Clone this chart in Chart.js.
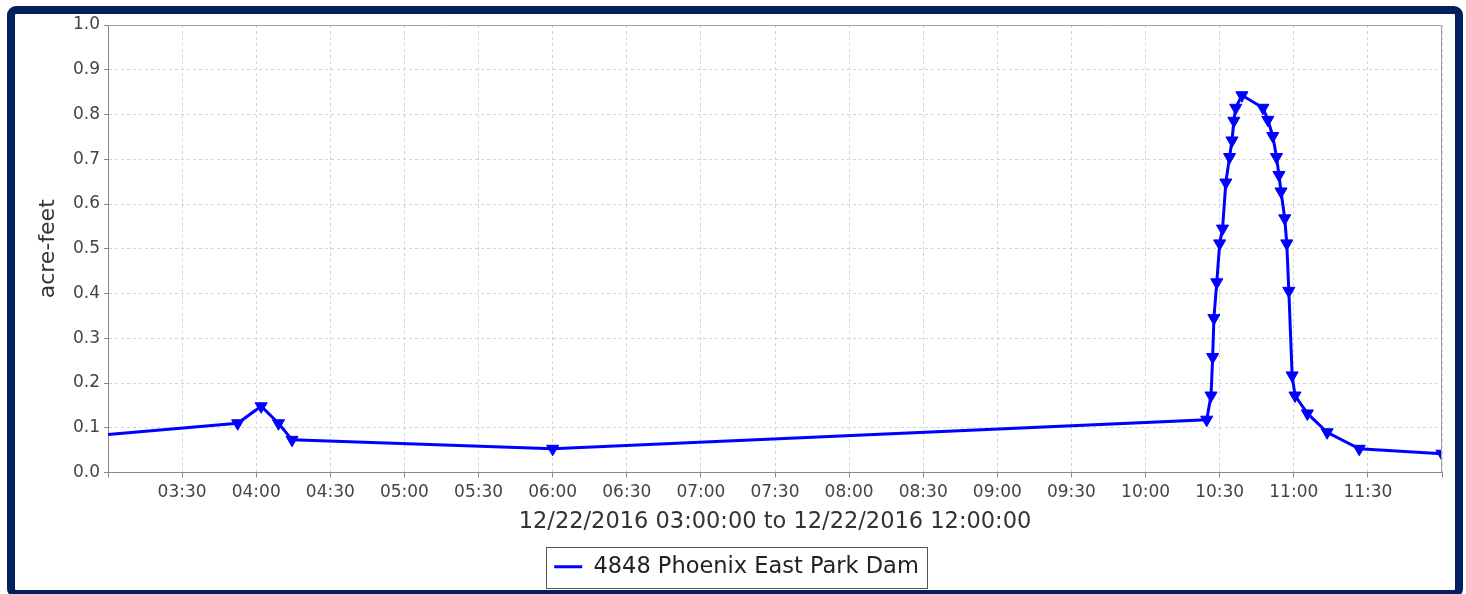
<!DOCTYPE html>
<html>
<head>
<meta charset="utf-8">
<script src="https://cdn.jsdelivr.net/npm/chart.js@4.4.0/dist/chart.umd.min.js"></script>
<style>
  html, body { margin: 0; padding: 0; background: #fff; }
  #wrap { position: relative; width: 1466px; height: 594px; overflow: hidden; }
  #frame {
    position: absolute; left: 7px; top: 6px; width: 1456px; height: 592px;
    box-sizing: border-box; border: 8px solid #02205e; border-radius: 9px;
    pointer-events: none;
  }
</style>
</head>
<body>
<div id="wrap">
  <canvas id="chart" width="1466" height="594"></canvas>
  <div id="frame"></div>
</div>
<script>
// reading times (HH:MM:SS, 12/22/2016) and storage in acre-feet
const times = [
  "03:00:00", "03:52:30", "04:02:00", "04:09:00", "04:14:30", "06:00:00",
  "10:24:45", "10:26:30", "10:27:10", "10:27:40", "10:28:50", "10:30:00",
  "10:31:10", "10:32:30", "10:34:00", "10:35:00", "10:35:45", "10:36:30",
  "10:39:00", "10:47:30", "10:49:30", "10:51:30", "10:53:00", "10:54:00",
  "10:54:50", "10:56:20", "10:57:10", "10:58:00", "10:59:20", "11:00:30",
  "11:05:30", "11:13:30", "11:26:30", "12:00:00"
];
const acreFeet = [
  0.085, 0.110, 0.148, 0.110, 0.073, 0.053,
  0.118, 0.172, 0.258, 0.345, 0.425, 0.512,
  0.545, 0.648, 0.705, 0.742, 0.786, 0.815,
  0.843, 0.815, 0.788, 0.752, 0.705, 0.665,
  0.628, 0.568, 0.512, 0.406, 0.217, 0.172,
  0.132, 0.090, 0.053, 0.042
];
const seriesName = "4848 Phoenix East Park Dam";
const xTitle = "12/22/2016 03:00:00 to 12/22/2016 12:00:00";
const yTitle = "acre-feet";
const xMin = "03:00", xMax = "12:00";

function toMinutes(t) {
  const p = t.split(":").map(Number);
  return p[0] * 60 + p[1] + (p[2] || 0) / 60;
}
function fmt(m) {
  const h = Math.floor(m / 60), mm = Math.round(m % 60);
  return String(h).padStart(2, "0") + ":" + String(mm).padStart(2, "0");
}

const points = times.map((t, i) => ({ x: toMinutes(t), y: acreFeet[i] }));
const FONT = "'DejaVu Sans', sans-serif";
const BLUE = "#0000ff";

const framePlugin = {
  id: "frame",
  afterDraw(chart) {
    const { ctx, chartArea: a } = chart;
    ctx.save();
    ctx.strokeStyle = "#a0a0a0";
    ctx.lineWidth = 1;
    ctx.beginPath();
    ctx.moveTo(a.left, a.top + 0.5);
    ctx.lineTo(a.right - 0.5, a.top + 0.5);
    ctx.lineTo(a.right - 0.5, a.bottom);
    ctx.stroke();
    // box round the legend
    const hb = chart.legend.legendHitBoxes[0];
    if (hb) {
      ctx.strokeStyle = "#555";
      ctx.lineWidth = 1;
      ctx.strokeRect(Math.round(hb.left - 8) + 0.5, Math.round(hb.top - 9) + 0.5,
        Math.round(hb.width + 16), Math.round(hb.height + 18));
    }
    ctx.restore();
  }
};

new Chart(document.getElementById("chart").getContext("2d"), {
  type: "line",
  data: {
    datasets: [{
      label: seriesName,
      data: points,
      borderColor: BLUE,
      backgroundColor: BLUE,
      borderWidth: 3,
      tension: 0,
      fill: false,
      pointStyle: "triangle",
      rotation: 180,
      pointRadius: (c) => (c.dataIndex === 0 ? 0 : 7),
      pointBorderWidth: 1,
      clip: 0
    }]
  },
  options: {
    responsive: false,
    animation: false,
    layout: { padding: { left: 31, right: 24, top: 25, bottom: 6 } },
    scales: {
      x: {
        type: "linear",
        min: toMinutes(xMin),
        max: toMinutes(xMax),
        afterFit: (s) => { s.height = 64; },
        ticks: {
          stepSize: 30,
          autoSkip: false,
          maxRotation: 0,
          padding: 5,
          color: "#444",
          font: { family: FONT, size: 17 },
          callback: (v) => (v === toMinutes(xMin) || v === toMinutes(xMax) ? "" : fmt(v))
        },
        grid: { color: "#d4d4d4", tickLength: 5, tickColor: "#888", tickBorderDash: [] },
        border: { color: "#888", width: 1, dash: [3, 3] },
        title: {
          display: true, text: xTitle, color: "#333",
          font: { family: FONT, size: 22.5 }, padding: { top: 0, bottom: 1 }
        }
      },
      y: {
        min: 0,
        max: 1,
        afterFit: (s) => { s.width = 77; },
        ticks: {
          stepSize: 0.1,
          padding: 4,
          color: "#444",
          font: { family: FONT, size: 17 },
          callback: (v) => Number(v).toFixed(1)
        },
        grid: { color: "#d4d4d4", tickLength: 4, tickColor: "#888", tickBorderDash: [] },
        border: { color: "#888", width: 1, dash: [3, 3] },
        title: {
          display: true, text: yTitle, color: "#333",
          font: { family: FONT, size: 22 }, padding: { top: 4, bottom: 4 }
        }
      }
    },
    plugins: {
      legend: {
        position: "bottom",
        labels: {
          usePointStyle: true,
          pointStyle: "line",
          pointStyleWidth: 28,
          padding: 19,
          color: "#222",
          font: { family: FONT, size: 22.5 },
          generateLabels: (chart) =>
            Chart.defaults.plugins.legend.labels.generateLabels(chart).map((l) => ({
              ...l, lineWidth: 3, strokeStyle: BLUE, fillStyle: BLUE, rotation: 0
            }))
        }
      },
      tooltip: { enabled: false }
    }
  },
  plugins: [framePlugin]
});
</script>
</body>
</html>
